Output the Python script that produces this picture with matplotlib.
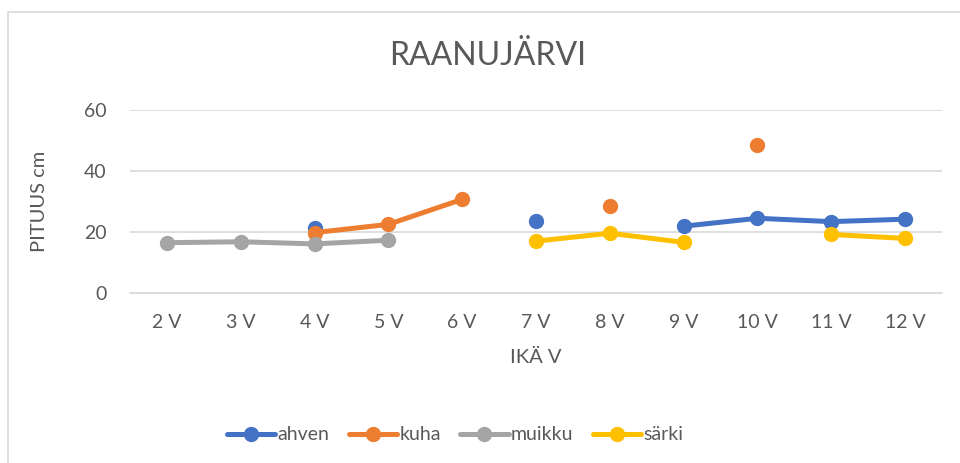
#!/usr/bin/env python3
import numpy as np
import matplotlib
matplotlib.use("Agg")
import matplotlib.pyplot as plt
from matplotlib.patches import Rectangle

plt.rcParams['font.family'] = ['Lato', 'DejaVu Sans']

# data (nan = no value for that age)
ages = ["2 V", "3 V", "4 V", "5 V", "6 V", "7 V", "8 V", "9 V", "10 V", "11 V", "12 V"]
nan = np.nan
ahven = [nan, nan, 21.2, nan, nan, 23.6, nan, 21.9, 24.5, 23.4, 24.2]
kuha = [nan, nan, 19.8, 22.5, 30.7, nan, 28.5, nan, 48.5, nan, nan]
muikku = [16.5, 16.8, 16.1, 17.3, nan, nan, nan, nan, nan, nan, nan]
sarki = [nan, nan, nan, nan, nan, 17.0, 19.6, 16.6, nan, 19.2, 17.9]

series_names = ["ahven", "kuha", "muikku", "särki"]
series_values = [ahven, kuha, muikku, sarki]
colors = ["#4472C4", "#ED7D31", "#A5A5A5", "#FFC000"]

txt = "#595959"
grid = "#D9D9D9"

W, H = 960, 463
fig = plt.figure(figsize=(W / 100, H / 100), dpi=100)
ax = fig.add_axes([130 / W, (H - 293) / H, (942 - 130) / W, (293 - 110) / H])

# chart border
fig.patches.append(Rectangle((7.5 / W, -0.1), 1.2, (H - 11.5) / H + 0.1,
                             transform=fig.transFigure, fill=False,
                             edgecolor=grid, linewidth=1.2))

x = np.arange(len(ages))
for name, vals, c in zip(series_names, series_values, colors):
    ax.plot(x, vals, color=c, linewidth=3.6, marker='o', markersize=10,
            label=name, solid_capstyle='round', zorder=3)

ax.set_xlim(-0.5, len(ages) - 0.5)
ax.set_ylim(0, 60)
ax.set_yticks([0, 20, 40, 60])
ax.set_xticks(x)
ax.set_xticklabels(ages)
ax.yaxis.grid(True, color=grid, linewidth=1.2)
ax.set_axisbelow(True)
for s in ['top', 'right', 'left']:
    ax.spines[s].set_visible(False)
ax.spines['bottom'].set_color(grid)
ax.spines['bottom'].set_linewidth(1.2)
ax.tick_params(length=0, labelsize=14, colors=txt)
ax.tick_params(axis='x', pad=15)
ax.tick_params(axis='y', pad=17)

ax.set_xlabel("IKÄ V", fontsize=14.5, color=txt, labelpad=13)
ax.set_ylabel("PITUUS cm", fontsize=14.5, color=txt, labelpad=26)
fig.text(488 / W, (H - 56) / H, "RAANUJÄRVI", fontsize=23, color=txt,
         ha='center', va='center')

leg = fig.legend(loc='center', bbox_to_anchor=(455 / W, (H - 435) / H),
                 ncol=4, frameon=False, fontsize=14, handlelength=2.5,
                 handletextpad=0.1, columnspacing=1.0, labelcolor=txt)

fig.savefig("out.png", dpi=100)
